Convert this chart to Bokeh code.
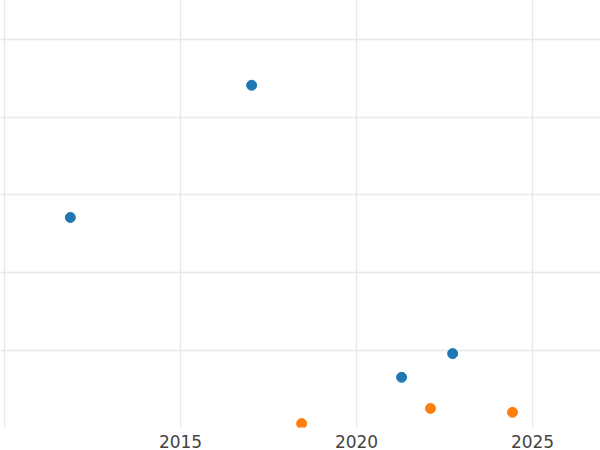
from bokeh.plotting import figure
from bokeh.models import Range1d, FixedTicker
from bokeh.embed import file_html
from bokeh.resources import INLINE

blue_year = [2017.02, 2011.87, 2021.28, 2022.73]
blue_val = [88.2, 54.2, 13.1, 19.2]
orange_year = [2018.44, 2022.10, 2024.43]
orange_val = [1.2, 5.1, 4.1]
x_ticks = [2010, 2015, 2020, 2025]
y_ticks = [20, 40, 60, 80, 100]

p = figure(width=600, height=450, output_backend="svg", toolbar_location=None,
           x_range=Range1d(2009.886, 2026.93), y_range=Range1d(0.2, 110.0),
           min_border_left=0, min_border_right=0, min_border_top=0, min_border_bottom=0)
p.outline_line_color = None
p.background_fill_color = "white"

p.xaxis.ticker = FixedTicker(ticks=x_ticks)
p.xaxis.major_label_overrides = {2010: ""}
p.xaxis.axis_line_color = None
p.xaxis.major_tick_line_color = None
p.xaxis.minor_tick_line_color = None
p.xaxis.major_label_text_font = "DejaVu Sans"
p.xaxis.major_label_text_font_size = "17px"
p.xaxis.major_label_text_color = "#444444"
p.xaxis.major_label_standoff = 1

p.yaxis.visible = False

p.xgrid.ticker = FixedTicker(ticks=x_ticks)
p.ygrid.ticker = FixedTicker(ticks=y_ticks)
p.grid.grid_line_color = "#e8e8e8"
p.grid.grid_line_width = 1.5

p.scatter(blue_year, blue_val, size=10, color="#1f77b4")
p.scatter(orange_year, orange_val, size=10, color="#ff7f0e")

open("out.html", "w").write(file_html(p, INLINE))
